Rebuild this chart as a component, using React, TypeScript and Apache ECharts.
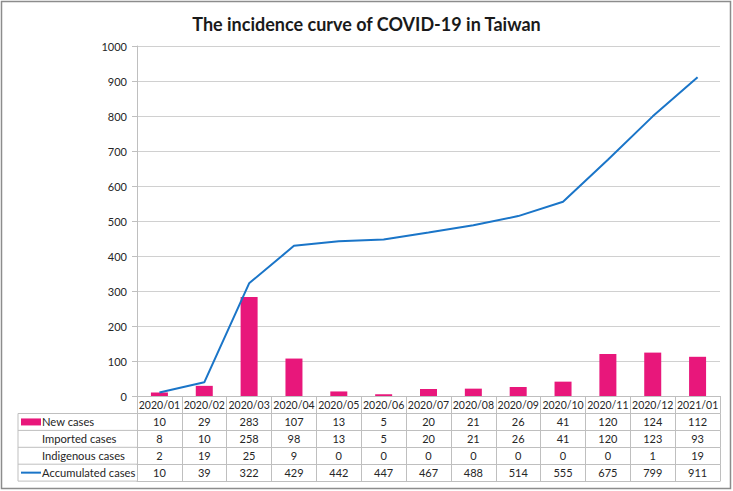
import React, { useEffect, useRef } from "react";
import * as echarts from "echarts";

const months = ["2020/01","2020/02","2020/03","2020/04","2020/05","2020/06","2020/07","2020/08","2020/09","2020/10","2020/11","2020/12","2021/01"];
const newCases = [10, 29, 283, 107, 13, 5, 20, 21, 26, 41, 120, 124, 112];
const importedCases = [8, 10, 258, 98, 13, 5, 20, 21, 26, 41, 120, 123, 93];
const indigenousCases = [2, 19, 25, 9, 0, 0, 0, 0, 0, 0, 0, 1, 19];
const accumulatedCases = [10, 39, 322, 429, 442, 447, 467, 488, 514, 555, 675, 799, 911];
const yTicks = { min: 0, max: 1000, interval: 100 };

const rowNames = ["New cases", "Imported cases", "Indigenous cases", "Accumulated cases"];
const rowData = [newCases, importedCases, indigenousCases, accumulatedCases];

const BAR = "#E8177B";
const LINE = "#1A75C8";
const GRIDC = "#BFBFBF";
const TXT = "#262626";
const FONT = "Lato, 'Liberation Sans', Arial, sans-serif";
const FS = 11;

export default function App() {
  const ref = useRef<HTMLDivElement>(null);
  useEffect(() => {
    if (!ref.current) return;
    const chart = echarts.init(ref.current, undefined, { renderer: "svg" });
    const gridLeft = 137, gridRight = 13, gridTop = 46, gridBottom = 95;
    const plotBottom = 491 - gridBottom;
    const headerH = 17.5;
    const rowH = 16.9;
    const tableLeft = 18;

    const xAxes: any[] = [
      {
        type: "category",
        data: months,
        position: "bottom",
        gridIndex: 0,
        axisLine: { show: true, lineStyle: { color: GRIDC, width: 1 } },
        axisTick: { show: true, length: headerH, lineStyle: { color: GRIDC } },
        axisLabel: { fontSize: 10.5, color: TXT, fontFamily: FONT, margin: 3.5, interval: 0 },
      },
    ];
    rowData.forEach((arr, i) => {
      xAxes.push({
        type: "category",
        data: months,
        position: "bottom",
        offset: headerH + rowH * i,
        gridIndex: 0,
        axisLine: { show: true, lineStyle: { color: GRIDC, width: 1 } },
        axisTick: { show: true, length: rowH, lineStyle: { color: GRIDC } },
        axisLabel: {
          fontSize: FS, color: TXT, fontFamily: FONT, margin: 2.5, interval: 0,
          formatter: (_v: string, idx: number) => String(arr[idx]),
        },
      });
    });
    xAxes.push({
      type: "category",
      data: months,
      position: "bottom",
      offset: headerH + rowH * rowData.length,
      gridIndex: 0,
      axisLine: { show: true, lineStyle: { color: GRIDC, width: 1 } },
      axisTick: { show: false },
      axisLabel: { show: false },
    });

    const graphics: any[] = [
      {
        type: "rect",
        shape: { x: 1.5, y: 1.5, width: 729, height: 487 },
        style: { fill: "none", stroke: "#8C8C8C", lineWidth: 1.5 },
        silent: true,
      },
    ];
    for (let i = 0; i <= rowData.length; i++) {
      const y = plotBottom + headerH + rowH * i;
      graphics.push({
        type: "line",
        shape: { x1: tableLeft, y1: y, x2: gridLeft, y2: y },
        style: { stroke: GRIDC, lineWidth: 1 },
      });
    }
    graphics.push({
      type: "line",
      shape: { x1: tableLeft, y1: plotBottom + headerH, x2: tableLeft, y2: plotBottom + headerH + rowH * rowData.length },
      style: { stroke: GRIDC, lineWidth: 1 },
    });
    rowNames.forEach((name, i) => {
      const cy = plotBottom + headerH + rowH * i + rowH / 2;
      graphics.push({
        type: "text",
        x: 42,
        y: cy,
        style: { text: name, fontSize: 11.2, fill: TXT, fontFamily: FONT, verticalAlign: "middle", align: "left" },
      });
      if (i === 0) {
        graphics.push({
          type: "rect",
          shape: { x: 21, y: cy - 3.5, width: 20, height: 7 },
          style: { fill: BAR },
        });
      }
      if (i === 3) {
        graphics.push({
          type: "line",
          shape: { x1: 21, y1: cy, x2: 41, y2: cy },
          style: { stroke: LINE, lineWidth: 2 },
        });
      }
    });

    chart.setOption({
      animation: false,
      backgroundColor: "#fff",
      title: {
        text: "The incidence curve of COVID-19 in Taiwan",
        left: "center",
        top: 10,
        textStyle: { fontSize: 18, fontWeight: "bold", color: "#1a1a1a", fontFamily: FONT },
      },
      grid: { left: gridLeft, right: gridRight, top: gridTop, bottom: gridBottom, containLabel: false },
      xAxis: xAxes,
      yAxis: {
        type: "value",
        min: yTicks.min,
        max: yTicks.max,
        interval: yTicks.interval,
        axisLine: { show: true, lineStyle: { color: GRIDC } },
        axisTick: { show: true, length: 5, lineStyle: { color: GRIDC } },
        splitLine: { show: true, lineStyle: { color: "#D0D0D0" } },
        axisLabel: { fontSize: FS, color: TXT, fontFamily: FONT, margin: 10, formatter: (v: number) => String(v) },
      },
      series: [
        {
          name: "New cases",
          type: "bar",
          data: newCases,
          xAxisIndex: 0,
          barWidth: 17,
          itemStyle: { color: BAR },
        },
        {
          name: "Accumulated cases",
          type: "line",
          data: accumulatedCases,
          xAxisIndex: 0,
          showSymbol: false,
          symbol: "none",
          lineStyle: { color: LINE, width: 2 },
          itemStyle: { color: LINE },
        },
      ],
      graphic: graphics,
    });
    return () => chart.dispose();
  }, []);
  return <div ref={ref} style={{ position: "fixed", left: 0, top: 0, width: 733, height: 491 }} />;
}
